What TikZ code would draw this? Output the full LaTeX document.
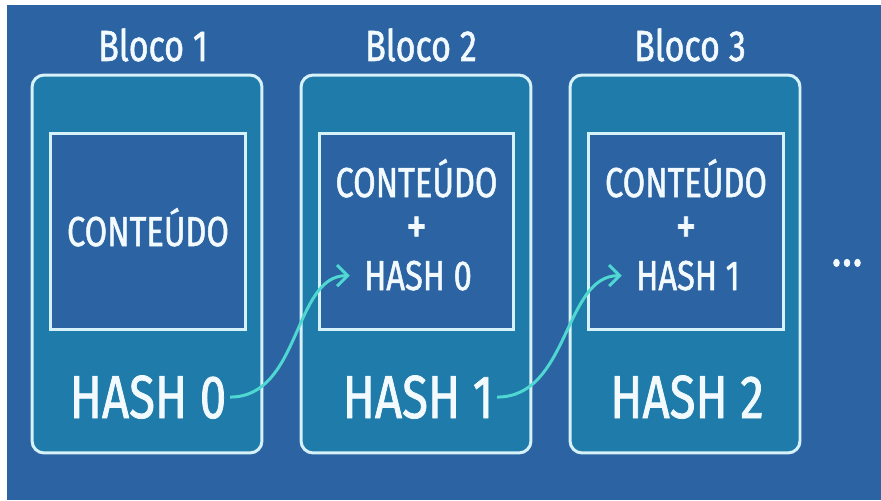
\documentclass[tikz,border=0pt]{standalone}
\usepackage{fontspec}
\setmainfont{Fira Sans}[FakeStretch=0.78,FakeBold=1.2]
\usetikzlibrary{arrows.meta}

\definecolor{bgblue}{HTML}{2B63A3}
\definecolor{blockteal}{HTML}{1F7BA9}
\definecolor{rimwhite}{HTML}{D6F2F8}
\definecolor{linkcyan}{HTML}{4FD8D2}
\definecolor{txtwhite}{HTML}{F2FAFD}

\begin{document}
\begin{tikzpicture}[x=0.02cm,y=-0.02cm,
  block/.style={rectangle,draw=rimwhite,line width=1.7pt,fill=blockteal,rounded corners=0.24cm,minimum width=4.6cm,minimum height=7.56cm},
  inbox/.style={rectangle,draw=rimwhite,line width=1.7pt,fill=bgblue,minimum width=3.9cm,minimum height=3.94cm},
  title/.style={text=txtwhite,font=\fontsize{24.8}{28}\selectfont,anchor=base},
  body/.style={text=txtwhite,font=\fontsize{23.8}{28}\selectfont,inner sep=0pt,anchor=base},
  plus/.style={body,font=\fontsize{30}{30}\selectfont},
  bighash/.style={text=txtwhite,font=\fontsize{34.6}{38}\selectfont,inner sep=2pt,anchor=base},
  link/.style={draw=linkcyan,line width=1.7pt,-{Straight Barb[length=6pt,width=12pt]},shorten >=8pt}]
\fill[white] (0,0) rectangle (881,500);
\fill[bgblue] (7,5) rectangle (881,500);

\node[block] (bloco1) at (147,264) {};
\node[block] (bloco2) at (416,264) {};
\node[block] (bloco3) at (685,264) {};
\node[inbox] (dados1) at (148,231.5) {};
\node[inbox] (dados2) at (416.5,231.5) {};
\node[inbox] (dados3) at (686,231.5) {};

\node[title] (titulo1) at (153,61) {Bloco 1};
\node[title] (titulo2) at (421,61) {Bloco 2};
\node[title] (titulo3) at (690,61) {Bloco 3};

\node[body] (conteudo1) at (148,246) {CONTEÚDO};
\node[body] (conteudo2) at (416.5,197) {CONTEÚDO};
\node[plus] (mais2) at (416.5,244) {+};
\node[body] (anterior2) at (418,290) {HASH 0};
\node[body] (conteudo3) at (686,197) {CONTEÚDO};
\node[plus] (mais3) at (686,244) {+};
\node[body] (anterior3) at (688,290) {HASH 1};

\node[bighash] (hash0) at (148,418) {HASH 0};
\node[bighash] (hash1) at (418,418) {HASH 1};
\node[bighash] (hash2) at (687,418) {HASH 2};

\node[text=txtwhite,font=\fontsize{24}{26}\selectfont\bfseries,anchor=base] (mais) at (847,266) {.\kern1.5pt.\kern1.5pt.};

\draw[link] (hash0.east) to[out=0,in=180] (anterior2.west);
\draw[link] (hash1.east) to[out=0,in=180] (anterior3.west);
\end{tikzpicture}
\end{document}
